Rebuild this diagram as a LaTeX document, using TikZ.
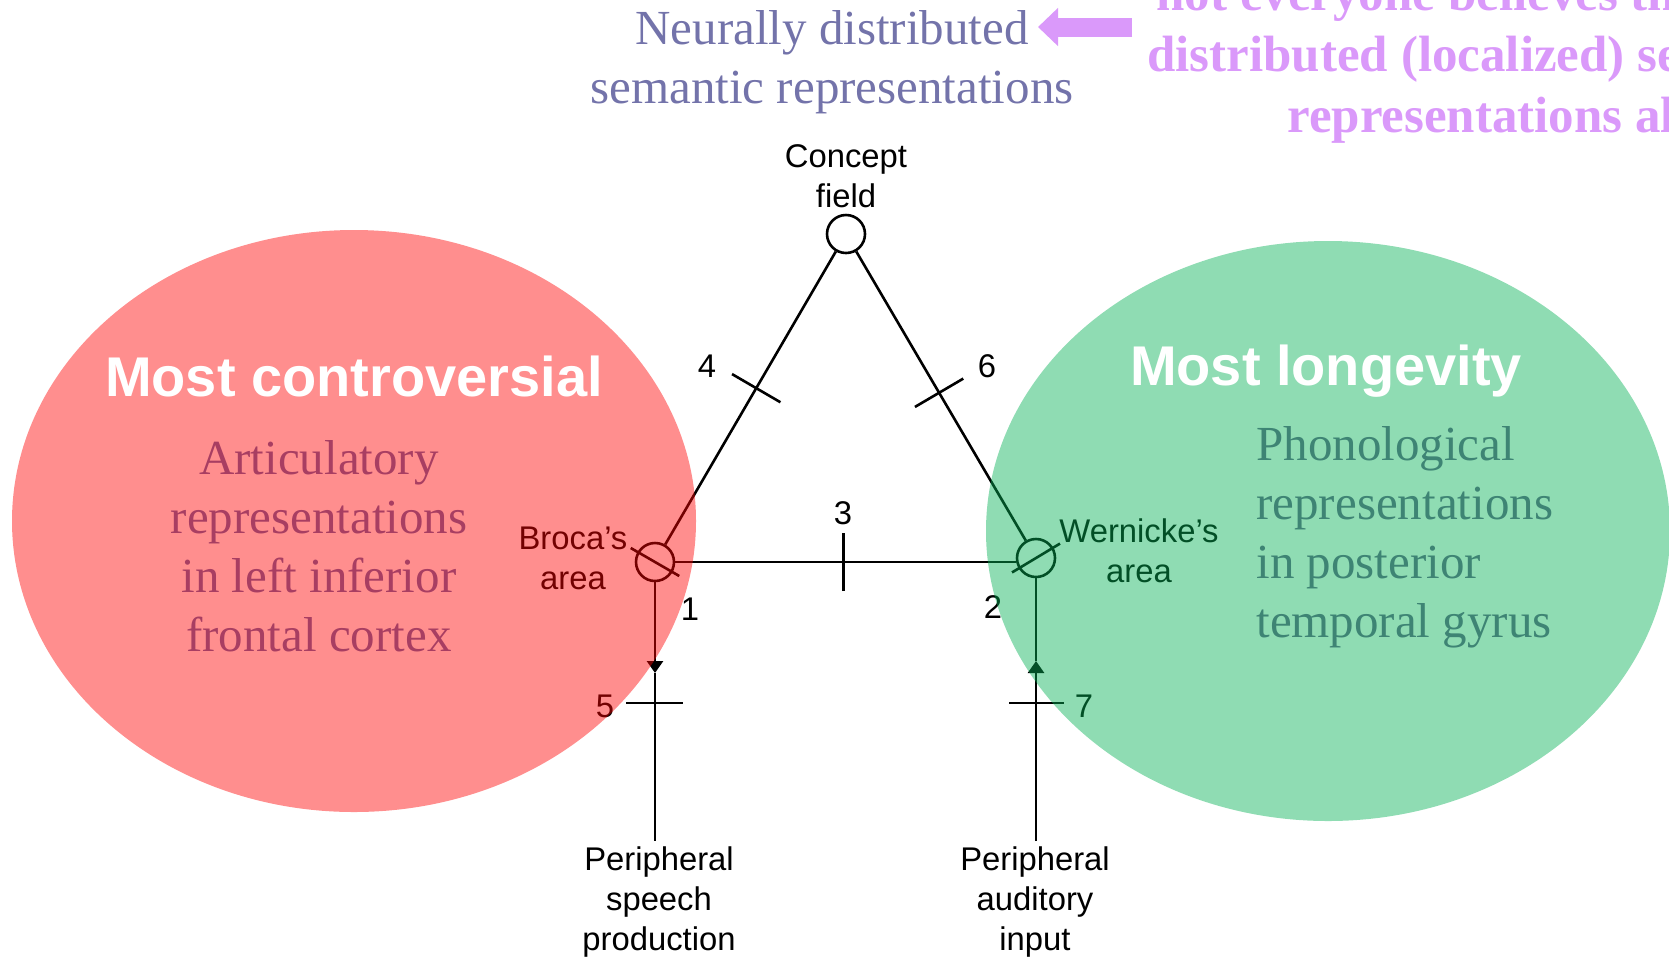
\documentclass[tikz,border=0pt]{standalone}
\usepackage{fontspec}
\setmainfont{Liberation Serif}
\setsansfont{Liberation Sans}
\usetikzlibrary{arrows.meta, calc}

\definecolor{brocared}{RGB}{255,4,4}
\definecolor{wernickegreen}{RGB}{6,177,86}
\definecolor{artictext}{RGB}{168,62,98}
\definecolor{phontext}{RGB}{62,132,116}
\definecolor{semtext}{RGB}{115,115,170}
\definecolor{noteviolet}{RGB}{218,153,250}

\begin{document}
\begin{tikzpicture}[
        x=0.5pt, y=-0.5pt,
        hub/.style={circle, draw, line width=1.3pt, minimum size=19pt, inner sep=0pt},
        areatag/.style={font=\sffamily\fontsize{16.4}{20}\selectfont, align=center, inner sep=0pt},
        wire/.style={line width=1.3pt},
        flow/.style={wire, -{Triangle[length=6pt, width=8pt]}},
        blob/.style={fill opacity=0.45, draw=none},
        heading/.style={text=white, font=\sffamily\bfseries\fontsize{28}{34}\selectfont, inner sep=0pt, anchor=base},
        blurb/.style={font=\fontsize{24.5}{29.45}\selectfont, inner sep=0pt, anchor=base}
    ]
    \useasboundingbox (0,0) rectangle (1669,965);
    \clip (0,0) rectangle (1669,965);

    \node[hub] (concept) at (846,234) {};
    \node[hub] (broca) at (655,562) {};
    \node[hub] (wernicke) at (1036,558) {};

    \node[areatag] (conceptlbl) at (846,176) {Concept\\field};
    \node[areatag] (brocalbl) at (573,558) {Broca's\\area};
    \node[areatag] (wernickelbl) at (1139,551) {Wernicke's\\area};
    \node[areatag, anchor=north, inner sep=2.5pt] (speech) at (659,841) {Peripheral\\speech\\production};
    \node[areatag, anchor=north, inner sep=2.5pt] (input) at (1035,841) {Peripheral\\auditory\\input};

    \node[areatag] (n1) at (690,609) {1};
    \node[areatag] (n2) at (993,607) {2};
    \node[areatag] (n3) at (843,513) {3};
    \node[areatag] (n4) at (707,366) {4};
    \node[areatag] (n5) at (605,706) {5};
    \node[areatag] (n6) at (987,366) {6};
    \node[areatag] (n7) at (1084,706) {7};

    \coordinate (t3) at ($(broca)!0.495!(broca -| wernicke)$);
    \coordinate (t4) at ($(concept)!0.47!(broca)$);
    \coordinate (t6) at ($(concept)!0.49!(wernicke)$);
    \coordinate (t5) at (655,703);
    \coordinate (t7) at (1036,703);
    \coordinate (a5) at (655,673);
    \coordinate (a7) at (1036,661);

    \draw[wire] (concept) -- (broca);
    \draw[wire] (concept) -- (wernicke);
    \draw[wire] (broca.east) -- (broca.east -| wernicke.west);
    \draw[flow] (broca) -- (a5);
    \draw[wire] (a5) -- (broca |- speech.north);
    \draw[flow] (wernicke |- input.north) -- (a7);
    \draw[wire] (a7) -- (wernicke);

    \draw[wire] ($(broca)+(150:14pt)$) -- ($(broca)+(-30:14pt)$);
    \draw[wire] ($(wernicke)+(211:14pt)$) -- ($(wernicke)+(31:14pt)$);
    \draw[wire] ($(t3)+(0,-14.5pt)$) -- ($(t3)+(0,14.5pt)$);
    \draw[wire] ($(t4)!14pt!90:(broca)$) -- ($(t4)!14pt!-90:(broca)$);
    \draw[wire] ($(t6)!14pt!90:(wernicke)$) -- ($(t6)!14pt!-90:(wernicke)$);
    \draw[wire] ($(t5)+(-14.5pt,0)$) -- ($(t5)+(14pt,0)$);
    \draw[wire] ($(t7)+(-13.5pt,0)$) -- ($(t7)+(14pt,0)$);

    \fill[blob, brocared] (354,521) ellipse [x radius=171pt, y radius=145.5pt];
    \fill[blob, wernickegreen] (1328,531) ellipse [x radius=171pt, y radius=145pt];

    \node[heading] (controversial) at (354,396) {Most controversial};
    \node[heading] (longevity) at (1326,385) {Most longevity};
    \node[blurb, text=artictext, align=center] (articulatory) at (319,651) {Articulatory\\representations\\in left inferior\\frontal cortex};
    \node[blurb, text=phontext, align=left, anchor=base west] (phonological) at (1256,637) {Phonological\\representations\\in posterior\\temporal gyrus};
    \node[blurb, text=semtext, align=center] (semantic) at (832,103) {Neurally distributed\\semantic representations};
    \node[blurb, text=noteviolet, font=\bfseries\fontsize{25.5}{30.5}\selectfont, align=left, anchor=base west] (skeptic) at (1147,132) {\hspace*{4.5pt}not everyone believes that\\distributed (localized) semantic\\\hspace*{70pt}representations also};

    \coordinate (notetail) at (1132,27);
    \coordinate (notehead) at (1038,27);
    \draw[noteviolet, line width=9.5pt, -{Triangle[length=10pt, width=18.5pt]}] (notetail) -- (notehead);
\end{tikzpicture}
\end{document}
